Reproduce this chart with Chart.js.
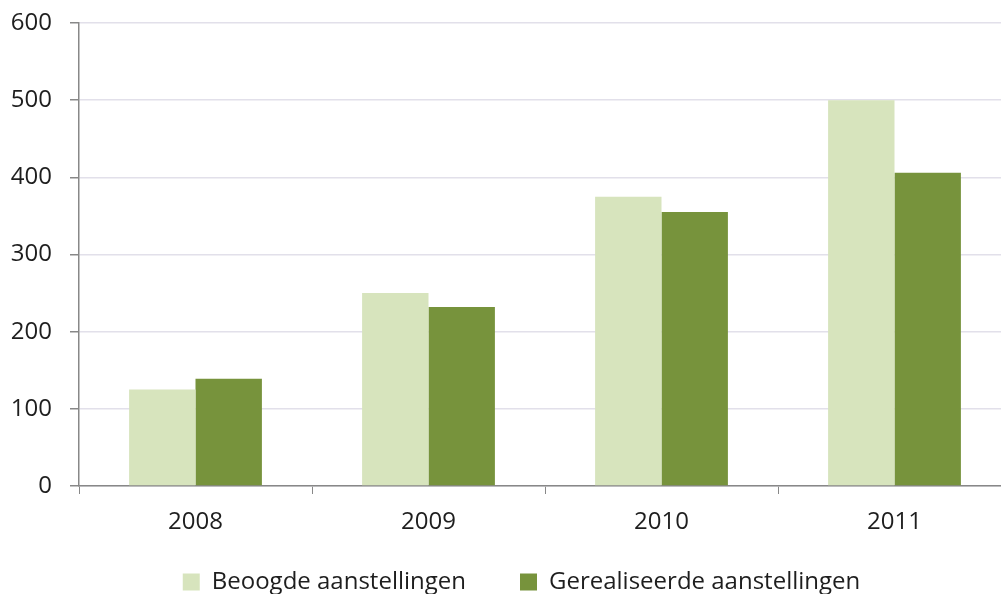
<!DOCTYPE html>
<html>
<head>
<meta charset="utf-8">
<script src="https://cdn.jsdelivr.net/npm/chart.js@4"></script>
<style>
  html, body { margin: 0; padding: 0; background: #fff; }
  #wrap { width: 1001px; height: 594px; overflow: hidden; }
</style>
</head>
<body>
<div id="wrap"><canvas id="myChart" width="1011" height="624"></canvas></div>
<script>
// Data
const years = ["2008", "2009", "2010", "2011"];
const beoogd = [125, 250, 375, 500];
const gerealiseerd = [139, 232, 355, 406];
const yTicks = [0, 100, 200, 300, 400, 500, 600];

const fontFam = "'Open Sans', 'Liberation Sans', sans-serif";

// Legend staat in het origineel iets rechts van het midden en wat hoger
const legendShift = {
  id: "legendShift",
  afterLayout(chart) {
    chart.legend.left += 16;
    chart.legend.right += 16;
    chart.legend.top -= 20;
    chart.legend.bottom -= 20;
  }
};

new Chart(document.getElementById("myChart"), {
  type: "bar",
  data: {
    labels: years,
    datasets: [
      {
        label: "Beoogde aanstellingen",
        data: beoogd,
        backgroundColor: "#d7e4bd",
        barPercentage: 1,
        categoryPercentage: 0.57
      },
      {
        label: "Gerealiseerde aanstellingen",
        data: gerealiseerd,
        backgroundColor: "#77933c",
        barPercentage: 1,
        categoryPercentage: 0.57
      }
    ]
  },
  plugins: [legendShift],
  options: {
    responsive: false,
    animation: false,
    layout: { padding: { top: 23, right: 0, left: 0, bottom: 0 } },
    plugins: {
      tooltip: { enabled: false },
      legend: {
        position: "bottom",
        labels: {
          boxWidth: 17,
          boxHeight: 17,
          padding: 54,
          color: "#1e1e1e",
          font: { family: fontFam, size: 24 }
        }
      }
    },
    scales: {
      x: {
        afterFit: axis => { axis.height = 50; },
        grid: {
          drawOnChartArea: false,
          drawTicks: true,
          tickLength: 8,
          color: "#888"
        },
        border: { color: "#888", width: 1.5 },
        ticks: {
          color: "#1e1e1e",
          padding: 14,
          font: { family: fontFam, size: 24 }
        }
      },
      y: {
        min: 0,
        max: 600,
        afterFit: axis => {
          axis.width = 79;
          axis.paddingTop = 0;
          axis.paddingBottom = 0;
        },
        afterBuildTicks: axis => { axis.ticks = yTicks.map(v => ({ value: v })); },
        grid: {
          color: "#e2e0ea",
          lineWidth: 1.5,
          tickLength: 9,
          tickColor: "#888"
        },
        border: { color: "#888", width: 1.5 },
        ticks: {
          color: "#1e1e1e",
          padding: 18,
          font: { family: fontFam, size: 24 }
        }
      }
    }
  }
});
</script>
</body>
</html>
